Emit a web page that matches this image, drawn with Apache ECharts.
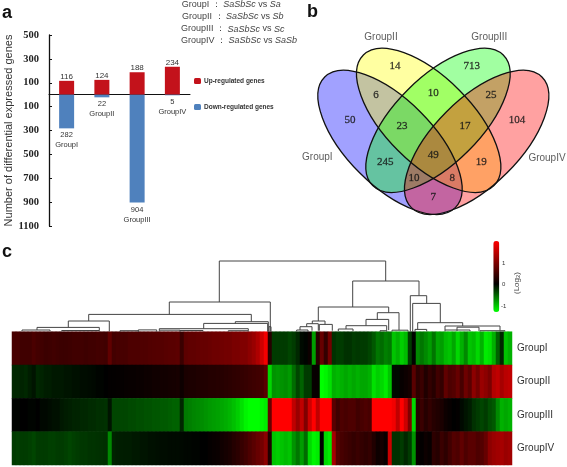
<!DOCTYPE html>
<html>
<head>
<meta charset="utf-8">
<style>html,body{margin:0;padding:0;background:#fff}#c{width:567px;height:467px}</style>
<script src="https://cdn.jsdelivr.net/npm/echarts@6/dist/echarts.min.js"></script>
</head>
<body>
<div id="c"></div>
<script>
// ---------- Panel a ----------
var groups = ['GroupI', 'GroupII', 'GroupIII', 'GroupIV'];
var upRegulated = [116, 124, 188, 234];
var downRegulated = [282, 22, 904, 5];
var yTicks = [500, 300, 100, -100, -300, -500, -700, -900, -1100];
var compareLeft = ['SaSbSc', 'SaSbSc', 'SaSbSc', 'SaSbSc'];
var compareRight = ['Sa', 'Sb', 'Sc', 'SaSb'];

// ---------- Panel b ----------
var vennCounts = [14, 713, 6, 10, 25, 50, 23, 17, 104, 49, 245, 19, 10, 8, 7];
var vennCountPlaces = [[315,197],[545,197],[258,284],[430,278],[603,284],[180,360],[336,379],[525,379],[681,360],[430,466],[286,485],[574,485],[372,534],[487,534],[430,590]];
var vennNamePlaces = [[82,473],[273,112],[598,112],[771,476]];
var vennEllipses = [[300,427,-1,'#0000ff'],[416,361,-1,'#ffff00'],[444,361,1,'#00ff00'],[560,427,1,'#ff0000']];

// ---------- Panel c ----------
var rowGroupI = [
 .55,.55,.5,.5,.5,.58,.52,.5,.46,.48,
 .5,.48,.46,.46,.48,.5,.5,.5,.48,.5,
 .5,.52,.52,.5,.75,.52,.55,.55,.55,.6,
 .6,.6,.62,.62,.64,.65,.66,.66,.68,.7,
 .7,.72,.45,.72,.75,.75,.78,.8,.8,.82,
 .85,.85,.88,.9,.9,.95,.95,1,1,1.1,
 1.2,1.35,1.6,1.9,.3,
 -.3,-.3,-.3,-.3,-.35,
 -.3,-.2,-.05,-.02,.1,
 -.8,.3,.8,.4,.9,
 -.25,-.3,-.3,-.25,-.25,
 -.3,-.28,-.3,-.3,-.35,
 -.45,-.6,-.55,-.65,-.6,
 -1,-.9,-1.05,-.95,-.3,
 -.02,-.7,-.6,-.7,-.8,
 -.6,-.85,-.8,-.95,-1,
 -.85,-1.1,-.9,-.7,-1,
 -.95,-1.1,-.9,-1.2,-1.15,
 -.9,-.5,-.2,-1,-.9];
var rowGroupII = [
 -.2,-.2,-.18,-.2,-.15,-.1,-.2,-.18,-.15,-.15,
 -.12,-.12,-.12,-.1,-.1,-.08,-.08,-.06,-.06,-.05,
 -.04,-.02,-.02,0,.02,.02,.03,.04,.05,.06,
 .06,.08,.08,.1,.1,.12,.12,.14,.14,.15,
 .16,.18,.1,.2,.22,.22,.24,.25,.26,.28,
 .28,.3,.3,.32,.34,.36,.38,.4,.42,.45,
 .48,.5,.55,.7,-1.1,
 -.75,-.78,-.75,-.72,-.78,
 -.55,-.35,-.5,-.3,-.3,
 .05,.05,-1.3,-1.25,-1.15,
 -.9,-.95,-.9,-.85,-.9,
 -.85,-.9,-.85,-.85,-.9,
 -1.15,-1.05,-1.1,-1.2,-1,
 -.05,-.05,.05,.1,.15,
 .7,.35,.45,.25,.4,
 .3,.5,.4,.75,.6,
 .65,.8,.55,.85,.7,
 1.1,.9,1.2,1.1,.95,
 1.4,1.5,1.3,1.45,1.5];
var rowGroupIII = [
 -.02,-.02,0,0,-.02,-.02,0,-.04,-.04,-.06,
 -.08,-.08,-.12,-.14,-.16,-.18,-.18,-.2,-.2,-.22,
 -.22,-.24,-.24,-.25,-.1,-.35,-.35,-.36,-.36,-.38,
 -.38,-.4,-.4,-.42,-.42,-.44,-.44,-.46,-.46,-.48,
 -.5,-.5,-.2,-.62,-.65,-.68,-.7,-.72,-.75,-.78,
 -.8,-.82,-.85,-.88,-.92,-.98,-1.05,-1.15,-1.25,-1.3,
 -1.3,-1.3,-1.25,-1.2,.8,
 2,2,2,2,2,
 1.5,1.2,1.5,1,1.6,
 2,1.5,2,2,2,
 .7,.5,.6,.55,.6,
 .6,.5,.55,.6,.55,
 2,2,2,2,2,
 1.9,1.5,2,1.6,1,
 -1.1,.3,.45,.3,.4,
 .3,.25,.2,.1,.05,
 0,.02,-.05,-.1,-.15,
 -.25,-.3,-.35,-.3,-.4,
 -.45,-.7,-.9,-.85,-.9];
var rowGroupIV = [
 -.3,-.32,-.3,-.3,-.32,-.35,-.3,-.3,-.3,-.32,
 -.32,-.3,-.3,-.32,-.35,-.32,-.3,-.28,-.28,-.26,
 -.26,-.25,-.25,-.24,-.7,-.18,-.16,-.15,-.14,-.14,
 -.12,-.12,-.1,-.1,-.08,-.08,-.07,-.06,-.06,-.05,
 -.05,-.05,-.04,-.03,-.03,-.02,-.02,0,0,.04,
 .06,.08,.12,.16,.2,.28,.34,.42,.5,.6,
 .7,.8,.9,1.1,.25,
 -1,-1.05,-1,-.95,-1,
 -.75,-.6,-.8,-.55,-1.1,
 -1.25,-1.2,0,-1.1,-1.2,
 1.3,.7,.55,.5,.45,
 .4,.45,.4,.35,.4,
 .25,.1,.15,.05,1.6,
 -.25,-.25,-.3,-.2,-.3,
 -.75,.05,.02,.1,.05,
 .35,.3,.45,.35,.5,
 .65,.6,.75,.6,.7,
 .7,.6,.65,.8,1.1,
 1.2,1.25,1.3,1.2,1.25];
var heatRows = [rowGroupI, rowGroupII, rowGroupIII, rowGroupIV];
var scaleTicks = ['1', '0', '-1'];

// dendrogram merges: [left x, right x, height, left child height, right child height]
var dendroMerges = [
 [219.3,385.7,70.7,29.7,50.7],
 [169.3,270.3,29.7,17.3,0],
 [88.7,251.3,17.3,10.7,10],
 [68.3,109.3,10.7,4.3,0],
 [37,99.3,4.3,1.7,1.2],
 [22,50,1.7,.5,.5],
 [61.7,99.3,1.2,.3,.3],
 [235.3,268.3,10,8.3,0],
 [203.7,267.7,8.3,3,0],
 [159.3,248.3,3,1.5,1],
 [159.3,180,1.5,.3,.3],
 [180,203,1.2,.3,.3],
 [120,138.3,1,0,0],
 [138.3,156.7,1.8,0,0],
 [228.3,248.3,1,.2,.2],
 [269,271,5,0,0],
 [352.7,419,50.7,24.7,36],
 [318.3,388.7,24.7,10.7,19],
 [312.3,325,10.7,8,7.3],
 [306.7,318.3,8,5,1],
 [300,312,5,1.7,1],
 [296.7,308,1.7,.3,.3],
 [319.3,332.3,7.3,1,1],
 [377.3,399,19,12.3,1.5],
 [366,388.7,12.3,6,1.5],
 [346,386.7,6,2.7,1],
 [338.3,353,2.7,.5,.5],
 [380,386.7,1,0,0],
 [392,408,1.5,.3,.3],
 [410.3,426.7,36,0,28.3],
 [412.7,440.3,28.3,0,9],
 [417.7,462.7,9,2.3,5.7],
 [415,426.7,2.3,.3,.3],
 [445,500,5.7,1.7,1],
 [457,479,4.5,.7,.7],
 [445,470,1.7,.3,.3],
 [480,505,1,.3,.3]
];

var sans = '"Liberation Sans", Arial, sans-serif';
var serif = '"Liberation Serif", "Times New Roman", serif';

// colour ramp green - black - red across the scale
function rampColor(v) {
  if (v >= 0) { return 'rgb(' + Math.round(Math.min(v / 2, 1) * 255) + ',0,0)'; }
  return 'rgb(0,' + Math.round(Math.min(-v / 1.3, 1) * 255) + ',0)';
}
var rampStops = [];
for (var s = -13; s <= 20; s++) { rampStops.push(rampColor(s / 10)); }

var heatData = [];
heatRows.forEach(function (row, r) {
  row.forEach(function (v, c) { heatData.push([c, r, v]); });
});
var colNames = rowGroupI.map(function (_, i) { return String(i); });

function ellipseItem(filled) {
  return function (params, api) {
    var c = api.coord([api.value(0), api.value(1)]);
    var u = api.size([1, 1]);
    var e = vennEllipses[params.dataIndex];
    return {
      type: 'ellipse',
      x: c[0], y: c[1],
      rotation: e[2] * Math.PI / 4,
      shape: { cx: 0, cy: 0, rx: 277 * u[0], ry: 129 * u[0] },
      style: filled ? { fill: e[3], opacity: 0.37, stroke: null }
                    : { fill: null, stroke: '#111', lineWidth: 1.3 }
    };
  };
}
var ellipseData = vennEllipses.map(function (e) { return [e[0], e[1]]; });

var legendRows = [4.5, 16.7, 29, 40.7];
var legendLefts = [181.7, 182, 181, 181];

var graphics = [
  { type: 'text', x: 2, y: 13, style: { text: 'a', font: 'bold 18px ' + sans, fill: '#111', verticalAlign: 'middle' } },
  { type: 'text', x: 307, y: 12, style: { text: 'b', font: 'bold 18px ' + sans, fill: '#111', verticalAlign: 'middle' } },
  { type: 'text', x: 2, y: 252, style: { text: 'c', font: 'bold 18px ' + sans, fill: '#111', verticalAlign: 'middle' } },
  { type: 'text', x: 502, y: 263, style: { text: scaleTicks[0], font: '6px ' + sans, fill: '#333', verticalAlign: 'middle' } },
  { type: 'text', x: 502, y: 284.5, style: { text: scaleTicks[1], font: '6px ' + sans, fill: '#333', verticalAlign: 'middle' } },
  { type: 'text', x: 501, y: 306, style: { text: scaleTicks[2], font: '6px ' + sans, fill: '#333', verticalAlign: 'middle' } },
  { type: 'text', x: 517, y: 283, rotation: Math.PI / 2, style: {
      text: '(Log{s|2})', font: '8px ' + sans, fill: '#444', align: 'center', verticalAlign: 'middle',
      rich: { s: { font: '6px ' + sans, fill: '#444', verticalAlign: 'bottom' } } } }
];
groups.forEach(function (g, i) {
  graphics.push({
    type: 'text', x: legendLefts[i], y: legendRows[i],
    style: {
      text: '{n|' + g + ' ： }{i|' + compareLeft[i] + '}{n| vs }{i|' + compareRight[i] + '}',
      verticalAlign: 'middle',
      rich: {
        n: { font: '9px ' + sans, fill: '#444' },
        i: { font: 'italic 9px ' + sans, fill: '#444' }
      }
    }
  });
});

var chart = echarts.init(document.getElementById('c'), null, { renderer: 'canvas' });
chart.setOption({
  animation: false,
  backgroundColor: '#fff',
  graphic: { elements: graphics },
  legend: {
    data: ['Up-regulated genes', 'Down-regulated genes'],
    orient: 'vertical', left: 194, top: 77.5, itemWidth: 7, itemHeight: 6, itemGap: 19,
    selectedMode: false, padding: 0,
    textStyle: { fontFamily: sans, fontSize: 6.5, fontWeight: 'bold', color: '#333', padding: [0, 0, 0, -2] }
  },
  grid: [
    { left: 49, top: 35, width: 141, height: 191 },
    { left: 290, top: 0, width: 277, height: 240 },
    { left: 12, top: 251.7, width: 500, height: 80 },
    { left: 12, top: 331.7, width: 500, height: 133.3 }
  ],
  xAxis: [
    { gridIndex: 0, type: 'category', data: groups, axisLabel: { show: false }, axisTick: { show: false },
      axisLine: { onZero: true, lineStyle: { color: '#111', width: 1 } } },
    { gridIndex: 1, type: 'value', min: 0, max: 831, show: false },
    { gridIndex: 2, type: 'value', min: 12, max: 512, show: false },
    { gridIndex: 3, type: 'category', data: colNames, show: false }
  ],
  yAxis: [
    { gridIndex: 0, type: 'value', min: -1100, max: 500, interval: 100, splitLine: { show: false },
      name: 'Number of differential expressed genes', nameLocation: 'middle', nameGap: 35, nameRotate: 90,
      nameTextStyle: { fontFamily: sans, fontSize: 11, color: '#333' },
      axisLine: { show: true, onZero: false, lineStyle: { color: '#111', width: 1.3 } },
      axisTick: { show: true, inside: true, length: 3, customValues: yTicks, lineStyle: { color: '#111' } },
      axisLabel: { customValues: yTicks, margin: 10, fontFamily: serif, fontWeight: 'bold', fontSize: 10.5, color: '#222',
        formatter: function (v) { return String(Math.abs(v)); } } },
    { gridIndex: 1, type: 'value', min: 0, max: 720, inverse: true, show: false },
    { gridIndex: 2, type: 'value', min: 0, max: 80, show: false },
    { gridIndex: 3, type: 'category', data: groups, inverse: true, position: 'right',
      axisLine: { show: false }, axisTick: { show: false },
      axisLabel: { margin: 5, fontFamily: sans, fontSize: 10, color: '#333' } }
  ],
  visualMap: {
    type: 'continuous', seriesIndex: 7, min: -1.3, max: 2, calculable: false, realtime: false,
    left: 493.3, top: 241, itemWidth: 6, itemHeight: 71, text: null, showLabel: false, padding: 0,
    inRange: { color: rampStops }, textStyle: { fontSize: 1, color: 'transparent' }, hoverLink: false
  },
  series: [
    { name: 'Up-regulated genes', type: 'bar', stack: 'g', xAxisIndex: 0, yAxisIndex: 0, barWidth: 15,
      data: upRegulated, itemStyle: { color: '#c3121b' },
      label: { show: true, position: 'top', distance: 0, fontFamily: sans, fontSize: 8, color: '#333' } },
    { name: 'Down-regulated genes', type: 'bar', stack: 'g', xAxisIndex: 0, yAxisIndex: 0, barWidth: 15,
      data: downRegulated.map(function (v) { return -v; }), itemStyle: { color: '#4f81bd' },
      label: { show: true, position: 'bottom', distance: 2, fontFamily: sans, fontSize: 7.5, lineHeight: 10, color: '#333',
        formatter: function (p) { return Math.abs(p.value) + '\n' + groups[p.dataIndex]; } } },
    { type: 'custom', xAxisIndex: 1, yAxisIndex: 1, data: ellipseData, renderItem: ellipseItem(true), silent: true, z: 2 },
    { type: 'custom', xAxisIndex: 1, yAxisIndex: 1, data: ellipseData, renderItem: ellipseItem(false), silent: true, z: 3 },
    { type: 'scatter', xAxisIndex: 1, yAxisIndex: 1, symbolSize: 0, silent: true, z: 4,
      data: vennCountPlaces.map(function (p, i) { return [p[0], p[1], vennCounts[i]]; }),
      label: { show: true, position: 'inside', fontFamily: serif, fontSize: 11, color: '#111',
        textBorderColor: '#222', textBorderWidth: 0.3,
        formatter: function (p) { return String(p.value[2]); } } },
    { type: 'scatter', xAxisIndex: 1, yAxisIndex: 1, symbolSize: 0, silent: true, z: 4,
      data: vennNamePlaces.map(function (p, i) { return [p[0], p[1], groups[i]]; }),
      label: { show: true, position: 'inside', fontFamily: sans, fontSize: 10, color: '#333',
        formatter: function (p) { return p.value[2]; } } },
    { type: 'custom', xAxisIndex: 2, yAxisIndex: 2, data: dendroMerges, silent: true, z: 5,
      renderItem: function (params, api) {
        var a = api.coord([api.value(0), api.value(3)]);
        var b = api.coord([api.value(0), api.value(2)]);
        var c = api.coord([api.value(1), api.value(2)]);
        var d = api.coord([api.value(1), api.value(4)]);
        return { type: 'polyline', shape: { points: [a, b, c, d] },
          style: { fill: null, stroke: '#444', lineWidth: 1 } };
      } },
    { type: 'heatmap', xAxisIndex: 3, yAxisIndex: 3, data: heatData, progressive: 0, silent: true,
      itemStyle: { borderWidth: 0 } }
  ]
});
</script>
</body>
</html>
